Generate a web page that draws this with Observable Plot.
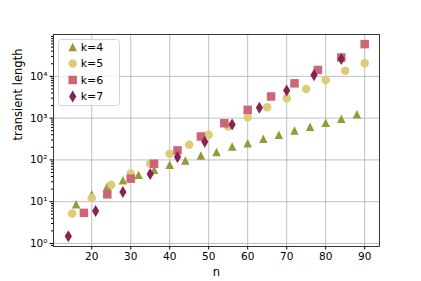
<!DOCTYPE html>
<html>
<head>
<meta charset="utf-8">
<script src="https://cdn.jsdelivr.net/npm/d3@7"></script>
<script src="https://cdn.jsdelivr.net/npm/@observablehq/plot@0.6"></script>
<style>
  html, body { margin: 0; padding: 0; background: white; }
</style>
</head>
<body>
<div id="chart"></div>
<script>
// ---- data ----
const labels = ["k=4", "k=5", "k=6", "k=7"];
const colors = ["#999933", "#DDCC77", "#CC6677", "#882255"];

const n4 = [16, 20, 24, 28, 32, 36, 40, 44, 48, 52, 56, 60, 64, 68, 72, 76, 80, 84, 88];
const v4 = [8.7, 14.8, 23.3, 32.4, 44, 58, 77, 97, 128, 154, 210, 250, 320, 400, 505, 620, 770, 960, 1230];

const n5 = [15, 20, 25, 30, 35, 40, 45, 50, 55, 60, 65, 70, 75, 80, 85, 90];
const v5 = [5.2, 12.3, 25.5, 47, 81, 140, 230, 400, 630, 1050, 1820, 2980, 5000, 8200, 13700, 20500];

const n6 = [18, 24, 30, 36, 42, 48, 54, 60, 66, 72, 78, 84, 90];
const v6 = [5.4, 15, 35.6, 81, 169, 363, 755, 1580, 3300, 6800, 14200, 28200, 59000];

const n7 = [14, 21, 28, 35, 42, 49, 56, 63, 70, 77, 84];
const v7 = [1.49, 6.0, 17, 46, 117, 272, 705, 1770, 4570, 10700, 26000];

const xTicks = [20, 30, 40, 50, 60, 70, 80, 90];
const yTicks = [1, 10, 100, 1000, 10000];

// ---- marker shapes (matplotlib-like) ----
const triUp = { draw(ctx, size) { const r = Math.sqrt(size / Math.PI);
  ctx.moveTo(0, -r); ctx.lineTo(r, r); ctx.lineTo(-r, r); ctx.closePath(); } };
const circ = { draw(ctx, size) { const r = Math.sqrt(size / Math.PI);
  ctx.moveTo(r, 0); ctx.arc(0, 0, r, 0, 2 * Math.PI); ctx.closePath(); } };
const sq = { draw(ctx, size) { const r = Math.sqrt(size / Math.PI);
  ctx.moveTo(-r, -r); ctx.lineTo(r, -r); ctx.lineTo(r, r); ctx.lineTo(-r, r); ctx.closePath(); } };
const thinDiamond = { draw(ctx, size) { const r = Math.sqrt(size / Math.PI);
  const h = r * Math.SQRT2, w = 0.6 * h;
  ctx.moveTo(0, -h); ctx.lineTo(w, 0); ctx.lineTo(0, h); ctx.lineTo(-w, 0); ctx.closePath(); } };
const symbols = [triUp, circ, sq, thinDiamond];
const R = 4.25;

const series = [[n4, v4], [n5, v5], [n6, v6], [n7, v7]].map(([ns, vs]) =>
  ns.map((n, i) => ({ n, v: vs[i] })));

// minor ticks for log axis
const minor = [];
for (let e = -1; e <= 4; e++) for (let m = 2; m <= 9; m++) {
  const v = m * Math.pow(10, e);
  if (v > 0.846 && v < 1.0e5) minor.push(v);
}

const sup = { "-": "⁻", "0": "⁰", "1": "¹", "2": "²", "3": "³", "4": "⁴", "5": "⁵", "6": "⁶", "7": "⁷", "8": "⁸", "9": "⁹" };
const fmt = d => "10" + String(Math.round(Math.log10(d))).split("").map(c => sup[c]).join("");

const grid = { stroke: "#b0b0b0", strokeOpacity: 1, strokeWidth: 0.8 };

const svg = Plot.plot({
  width: 421,
  height: 281,
  marginLeft: 53,
  marginRight: 42,
  marginTop: 34,
  marginBottom: 35,
  style: { fontFamily: "DejaVu Sans", fontSize: "10.5px", color: "#000", background: "white" },
  x: { domain: [10.2, 93.8] },
  y: { type: "log", domain: [0.846, 1.004e5] },
  marks: [
    Plot.gridX(xTicks, grid),
    Plot.gridY(yTicks, grid),
    Plot.axisX(xTicks, { tickSize: 3.5, tickPadding: 3, label: null, stroke: "#000" }),
    Plot.axisY(yTicks, { tickSize: 3.5, tickPadding: 2.5, tickFormat: fmt, label: null, stroke: "#000" }),
    Plot.axisY(minor, { tickSize: 2, tickFormat: () => "", label: null, stroke: "#000" }),
    ...series.map((d, i) => Plot.dot(d, {
      x: "n", y: "v", symbol: symbols[i], r: R, fill: colors[i], stroke: "none"
    })),
    Plot.frame({ stroke: "#222", strokeWidth: 0.9 }),
    Plot.text(["n"], { frameAnchor: "bottom", dy: 29, fontSize: 11.5, fill: "#000" }),
    Plot.text(["transient length"], { frameAnchor: "left", rotate: -90, dx: -35, fontSize: 11.5, fill: "#000" })
  ]
});

// ---- legend ----
const lg = d3.select(svg).append("g").attr("font-family", "DejaVu Sans").attr("font-size", "11px");
lg.append("rect").attr("x", 58.5).attr("y", 39.5).attr("width", 61).attr("height", 66)
  .attr("rx", 3).attr("fill", "white").attr("fill-opacity", 0.8).attr("stroke", "#d0d0d0").attr("stroke-width", 0.9);
const rowY = [47, 63.5, 80, 96.5];
labels.forEach((lab, i) => {
  lg.append("path")
    .attr("d", d3.symbol(symbols[i], R * R * Math.PI)())
    .attr("transform", `translate(72.7,${rowY[i]})`)
    .attr("fill", colors[i]);
  lg.append("text").attr("x", 92).attr("y", rowY[i]).attr("dy", "0.35em").attr("fill", "#000").text(lab);
});

document.getElementById("chart").appendChild(svg);
</script>
</body>
</html>
